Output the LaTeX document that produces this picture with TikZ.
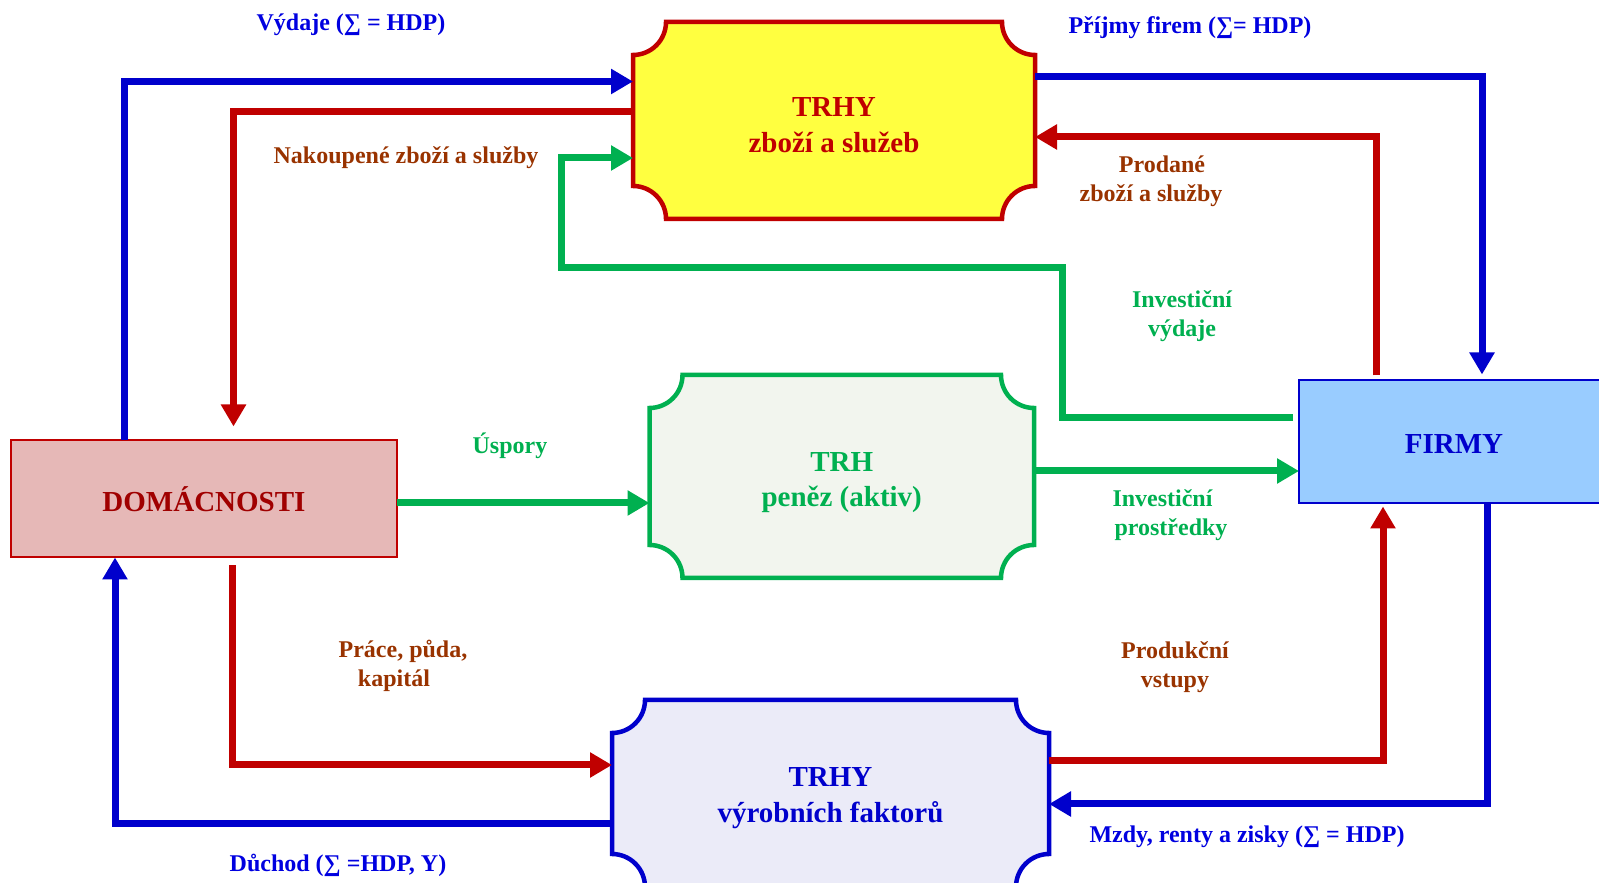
\documentclass[tikz,border=0pt]{standalone}
\usepackage{fontspec}
\setmainfont{Liberation Serif}
\usetikzlibrary{arrows.meta,calc}
\pgfdeclarelayer{background}
\pgfsetlayers{background,main}
\definecolor{cblue}{HTML}{0000CC}
\definecolor{cred}{HTML}{C00000}
\definecolor{cgreen}{HTML}{00B050}
\definecolor{cbrown}{HTML}{993300}
\definecolor{tblue}{HTML}{0000E0}
\definecolor{yfill}{HTML}{FFFF40}
\definecolor{gfill}{HTML}{F2F5EE}
\definecolor{bfill}{HTML}{EBEBF8}
\definecolor{dfill}{HTML}{E6B8B7}
\definecolor{ffill}{HTML}{99CCFF}
\definecolor{dred}{HTML}{A00000}
\newcommand\ccr{33pt}
\newcommand\ccpath[1]{([xshift=\ccr]#1.north west) -- ([xshift=-\ccr]#1.north east)
  arc[start angle=180,end angle=270,radius=\ccr] -- ([yshift=\ccr]#1.south east)
  arc[start angle=90,end angle=180,radius=\ccr] -- ([xshift=\ccr]#1.south west)
  arc[start angle=0,end angle=90,radius=\ccr] -- ([yshift=-\ccr]#1.north west)
  arc[start angle=270,end angle=360,radius=\ccr] -- cycle}
\tikzset{
  flow/.style={line width=7pt, -{Triangle[length=22pt,width=24pt]}},
  bflow/.style={flow, draw=cblue},
  rflow/.style={flow, draw=cred},
  gflow/.style={flow, draw=cgreen},
  lbl/.style={font=\fontsize{24}{28.6}\selectfont\bfseries, align=center, inner sep=0pt},
  boxtxt/.style={font=\fontsize{29}{35.7}\selectfont\bfseries, align=center},
  ccnode/.style={rectangle, draw=none, inner sep=0pt, outer sep=0pt},
  plainbox/.style={rectangle, line width=2pt, inner sep=0pt, outer sep=0pt, boxtxt},
}
\begin{document}
\begin{tikzpicture}[x=1pt,y=1pt]
\useasboundingbox (0,0) rectangle (1599,883);
% boxes
\node[ccnode, minimum width=402pt, minimum height=197pt,
  label={[boxtxt, text=cred, yshift=-4.6pt]center:{TRHY\\zboží a služeb}}] (trhz) at (834,762.5) {};
\node[ccnode, minimum width=384.5pt, minimum height=203pt,
  label={[boxtxt, text=cgreen, yshift=-6pt]center:{TRH\\peněz (aktiv)}}] (trhp) at (841.75,406.5) {};
\node[ccnode, minimum width=437pt, minimum height=187pt,
  label={[boxtxt, text=cblue, yshift=-4.5pt]center:{TRHY\\výrobních faktorů}}] (trhv) at (830.5,89.5) {};
\node[plainbox, draw=cred, fill=dfill, text=dred, minimum width=386pt, minimum height=117pt] (dom) at (204,384) {DOMÁCNOSTI};
\node[plainbox, draw=cblue, fill=ffill, minimum width=310pt, minimum height=123pt,
  label={[boxtxt, text=cblue, yshift=-2pt]center:FIRMY}] (firmy) at (1454,441) {};
\begin{pgfonlayer}{background}
\path[draw=cred, fill=yfill, line width=4.5pt] \ccpath{trhz};
\path[draw=cgreen, fill=gfill, line width=4.5pt] \ccpath{trhp};
\path[draw=cblue, fill=bfill, line width=4.5pt] \ccpath{trhv};
\end{pgfonlayer}
% helper coordinates
\coordinate (fN) at ([yshift=6pt]firmy.north);
\coordinate (fN2) at ([yshift=5pt]firmy.north);
\coordinate (fS) at ([yshift=-3pt]firmy.south);
\coordinate (dN) at ([yshift=14pt]dom.north);
\coordinate (dS) at ([yshift=-8pt]dom.south);
\coordinate (v1) at (124,801.5);
\coordinate (n1) at (233.5,771);
\coordinate (iv) at (1293,465);
\coordinate (g1) at (1062,615);
\coordinate (g2) at (561,725);
\coordinate (u) at (0,380);
\coordinate (p) at (0,412);
\coordinate (a1) at (1482,806.5);
\coordinate (pr) at (1376,746);
\coordinate (pk) at (232.5,118);
\coordinate (d) at (115,59);
\coordinate (pv) at (1383,122);
\coordinate (m) at (1487,79);
% connectors
\draw[bflow] (dom.north -| v1) |- (trhz.west |- v1);
\draw[rflow] (trhz.west |- n1) -| (dN -| n1);
\draw[gflow] (iv) -| (g1) -- (g1 -| g2) -- (g2) -- (trhz.west |- g2);
\draw[gflow] (dom.east |- u) -- (trhp.west |- u);
\draw[gflow] (trhp.east |- p) -- (firmy.west |- p);
\draw[bflow] (trhz.east |- a1) -| (fN -| a1);
\draw[rflow] (fN2 -| pr) |- (trhz.east |- pr);
\draw[rflow] (dS -| pk) |- (trhv.west |- pk);
\draw[bflow] (trhv.west |- d) -| (dom.south -| d);
\draw[rflow] (trhv.east |- pv) -| (fS -| pv);
\draw[bflow] (firmy.south -| m) |- (trhv.east |- m);
% labels
\node[lbl, text=tblue] (lv) at (351,858) {Výdaje (∑ = HDP)};
\node[lbl, text=tblue] (lp) at (1190,855.5) {Příjmy firem (∑= HDP)};
\node[lbl, text=cbrown] (ln) at (406,725) {Nakoupené zboží a služby};
\node[lbl, text=cbrown] (lpr) at (1151,702) {\hspace*{22pt}Prodané\\zboží a služby};
\node[lbl, text=cgreen] (liv) at (1182,567) {Investiční\\výdaje};
\node[lbl, text=cgreen] (lu) at (510,437) {Úspory};
\node[lbl, text=cgreen] (lip) at (1171,368) {Investiční\hspace*{17pt}\\prostředky};
\node[lbl, text=cbrown] (lpp) at (403,217) {Práce, půda,\\kapitál\hspace*{18pt}};
\node[lbl, text=cbrown] (lpv) at (1175,216) {Produkční\\vstupy};
\node[lbl, text=tblue] (ld) at (338,18) {Důchod (∑ =HDP, Y)};
\node[lbl, text=tblue] (lm) at (1247,46) {Mzdy, renty a zisky (∑ = HDP)};
\end{tikzpicture}
\end{document}
